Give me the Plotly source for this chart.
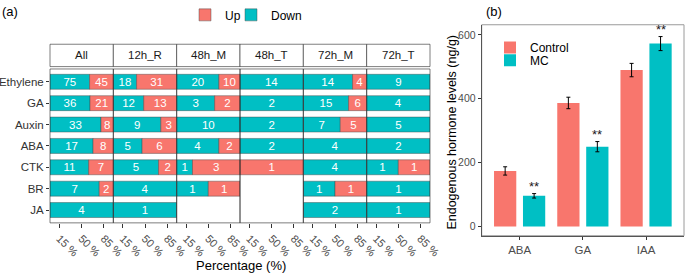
import plotly.graph_objects as go

W, H = 685, 274
FONT = "Liberation Sans, Arial, sans-serif"
RED = "#F8766D"
TEAL = "#00BFC4"

# ---------------- data: panel (a) ----------------
hormones = ["Ethylene", "GA", "Auxin", "ABA", "CTK", "BR", "JA"]
groups = ["All", "12h_R", "48h_M", "48h_T", "72h_M", "72h_T"]

down_All = [75, 36, 33, 17, 11, 7, 4]
down_12h_R = [18, 12, 9, 5, 5, 4, 1]
down_48h_M = [20, 3, 10, 4, 1, 1, None]
down_48h_T = [14, 2, 2, 2, 0, None, None]
down_72h_M = [14, 15, 7, 4, 4, 1, 2]
down_72h_T = [9, 4, 5, 2, 1, 1, 1]

up_All = [45, 21, 8, 8, 7, 2, 0]
up_12h_R = [31, 13, 3, 6, 2, 0, 0]
up_48h_M = [10, 2, 0, 2, 3, 1, None]
up_48h_T = [0, 0, 0, 0, 1, None, None]
up_72h_M = [4, 6, 5, 0, 0, 1, 0]
up_72h_T = [0, 0, 0, 0, 1, 0, 0]

pct_ticks = [0.15, 0.5, 0.85]
pct_labels = ["15 %", "50 %", "85 %"]

# ---------------- data: panel (b) ----------------
hormones_b = ["ABA", "GA", "IAA"]
control = [174, 387, 490]
control_err = [13, 18, 21]
mc = [96, 250, 573]
mc_err = [7, 16, 22]
y_ticks_b = [0, 200, 400, 600]

downs = [down_All, down_12h_R, down_48h_M, down_48h_T, down_72h_M, down_72h_T]
ups = [up_All, up_12h_R, up_48h_M, up_48h_T, up_72h_M, up_72h_T]


def px(x):
    return x / W


def py(y):
    return 1 - y / H


fig = go.Figure()

# panel (a) geometry
A_L, A_R = 50.0, 430.0
A_T, A_B = 66.7, 222.3
fw = (A_R - A_L) / len(groups)
STRIP_T, STRIP_B = 41.7, 64.3

layout_axes = {}
shapes = []
annotations = []

for i, g in enumerate(groups):
    ax = "x" if i == 0 else f"x{i + 1}"
    axkey = "xaxis" if i == 0 else f"xaxis{i + 1}"
    d = downs[i]
    u = ups[i]
    yy_d, xd, td, yy_u, xu, bu, tu = [], [], [], [], [], [], []
    for h, dv, uv in zip(hormones, d, u):
        if dv is None:
            continue
        tot = dv + uv
        if dv > 0:
            yy_d.append(h)
            xd.append(dv / tot)
            td.append(str(dv))
        if uv > 0:
            yy_u.append(h)
            xu.append(uv / tot)
            bu.append(dv / tot)
            tu.append(str(uv))
    fig.add_trace(go.Bar(
        y=yy_d, x=xd, base=[0] * len(xd), orientation="h", xaxis=ax, yaxis="y",
        marker=dict(color=TEAL, line=dict(color="rgba(70,70,70,0.55)", width=0.8)),
        width=0.7, text=td, textposition="inside", insidetextanchor="middle",
        textangle=0, constraintext="none",
        textfont=dict(color="white", size=11.5, family=FONT),
        name="Down", legend="legend", legendrank=2, showlegend=(i == 0),
    ))
    fig.add_trace(go.Bar(
        y=yy_u, x=xu, base=bu, orientation="h", xaxis=ax, yaxis="y",
        marker=dict(color=RED, line=dict(color="rgba(70,70,70,0.55)", width=0.8)),
        width=0.7, text=tu, textposition="inside", insidetextanchor="middle",
        textangle=0, constraintext="none",
        textfont=dict(color="white", size=11.5, family=FONT),
        name="Up", legend="legend", legendrank=1, showlegend=(i == 0),
        legendwidth=1,
    ))
    x0 = A_L + i * fw
    x1 = x0 + fw
    layout_axes[axkey] = dict(
        domain=[px(x0), px(x1)], anchor="y", range=[0, 1], automargin=False,
        tickvals=pct_ticks, ticktext=pct_labels, tickangle=45,
        ticks="outside", ticklen=4, tickcolor="#333333", tickwidth=1,
        tickfont=dict(size=11, color="#4D4D4D", family=FONT),
        showgrid=False, zeroline=False, showline=False, fixedrange=True,
    )
    # panel border
    shapes.append(dict(type="rect", xref="paper", yref="paper",
                       x0=px(x0), x1=px(x1), y0=py(A_B), y1=py(A_T),
                       line=dict(color="rgba(40,40,40,0.6)", width=1), layer="above"))
    # strip
    shapes.append(dict(type="rect", xref="paper", yref="paper",
                       x0=px(x0), x1=px(x1), y0=py(STRIP_B), y1=py(STRIP_T),
                       line=dict(color="rgba(40,40,40,0.6)", width=1),
                       fillcolor="white", layer="above"))
    annotations.append(dict(text=g, xref="paper", yref="paper",
                            x=px((x0 + x1) / 2), y=py((STRIP_T + STRIP_B) / 2),
                            showarrow=False, xanchor="center", yanchor="middle",
                            font=dict(size=11.5, color="#1a1a1a", family=FONT)))

layout_axes["yaxis"] = dict(
    domain=[py(A_B), py(A_T)], anchor="x", type="category", automargin=False,
    categoryorder="array", categoryarray=hormones, range=[6.6, -0.6],
    ticks="outside", ticklen=3, tickcolor="#333333",
    tickfont=dict(size=11.5, color="#333333", family=FONT),
    showgrid=False, zeroline=False, showline=False, fixedrange=True,
)

# ---------------- panel (b) ----------------
B_L, B_R = 481.7, 684.0
B_T, B_B = 22.0, 235.3
BW = 0.352
fig.add_trace(go.Bar(
    x=hormones_b, y=control, xaxis="x7", yaxis="y2", name="Control",
    marker=dict(color=RED, line=dict(width=0)), width=BW, offset=-0.405,
    error_y=dict(type="data", array=control_err, color="black", thickness=1, width=2),
    legend="legend2",
))
fig.add_trace(go.Bar(
    x=hormones_b, y=mc, xaxis="x7", yaxis="y2", name="MC",
    marker=dict(color=TEAL, line=dict(width=0)), width=BW, offset=0.053,
    error_y=dict(type="data", array=mc_err, color="black", thickness=1, width=2),
    legend="legend3",
))
layout_axes["xaxis7"] = dict(
    domain=[px(B_L), px(B_R)], anchor="y2", type="category", automargin=False,
    categoryorder="array", categoryarray=hormones_b, range=[-0.6, 2.6],
    ticks="outside", ticklen=3, tickcolor="#333333",
    tickfont=dict(size=11.5, color="#4D4D4D", family=FONT),
    showgrid=False, zeroline=False, showline=True, linecolor="#555555", linewidth=1,
    fixedrange=True,
)
layout_axes["yaxis2"] = dict(
    domain=[py(B_B), py(B_T)], anchor="x7", range=[-29, 632], automargin=False,
    tickvals=y_ticks_b, ticks="outside", ticklen=3, tickcolor="#333333",
    tickfont=dict(size=10.5, color="#4D4D4D", family=FONT),
    showgrid=False, zeroline=False, showline=True, linecolor="#555555", linewidth=1,
    fixedrange=True,
)
shapes.append(dict(type="rect", xref="paper", yref="paper",
                   x0=px(B_L), x1=px(B_R), y0=py(B_B), y1=py(B_T),
                   line=dict(color="#9a9a9a", width=1), layer="below"))

for i, (v, e) in enumerate(zip(mc, mc_err)):
    annotations.append(dict(text="**", xref="x7", yref="y2", x=i + 0.229, y=v + e,
                            showarrow=False, xanchor="center", yanchor="bottom", yshift=-2,
                            font=dict(size=13, color="#1a1a1a", family=FONT)))

# titles and labels
annotations += [
    dict(text="(a)", xref="paper", yref="paper", x=px(0), y=py(9), xanchor="left",
         yanchor="middle", showarrow=False, font=dict(size=13, color="black", family=FONT)),
    dict(text="(b)", xref="paper", yref="paper", x=px(484), y=py(9), xanchor="left",
         yanchor="middle", showarrow=False, font=dict(size=13, color="black", family=FONT)),
    dict(text="Percentage (%)", xref="paper", yref="paper", x=px(240.5), y=py(265),
         xanchor="center", yanchor="middle", showarrow=False,
         font=dict(size=13, color="black", family=FONT)),
    dict(text="Endogenous hormone levels (ng/g)", xref="paper", yref="paper",
         x=px(452), y=py(130), xanchor="center", yanchor="middle", textangle=-90,
         showarrow=False, font=dict(size=12.5, color="black", family=FONT)),
]

leg_font = dict(size=12, color="black", family=FONT)
fig.update_layout(
    template="none",
    width=W, height=H, margin=dict(l=0, r=0, t=0, b=0, pad=0),
    paper_bgcolor="white", plot_bgcolor="white",
    barmode="overlay",
    font=dict(family=FONT),
    shapes=shapes, annotations=annotations,
    legend=dict(orientation="h", x=px(185), xanchor="left", y=py(12), yanchor="middle",
                font=leg_font, bgcolor="rgba(0,0,0,0)", traceorder="normal"),
    legend2=dict(orientation="v", x=px(490), xanchor="left", y=py(45), yanchor="middle",
                 font=leg_font, bgcolor="rgba(0,0,0,0)"),
    legend3=dict(orientation="v", x=px(490), xanchor="left", y=py(58), yanchor="middle",
                 font=leg_font, bgcolor="rgba(0,0,0,0)"),
    **layout_axes,
)

fig.write_html(
    "out.html",
    config={"displayModeBar": False},
    post_script="document.body.style.margin='0';document.body.style.overflow='hidden';",
)
